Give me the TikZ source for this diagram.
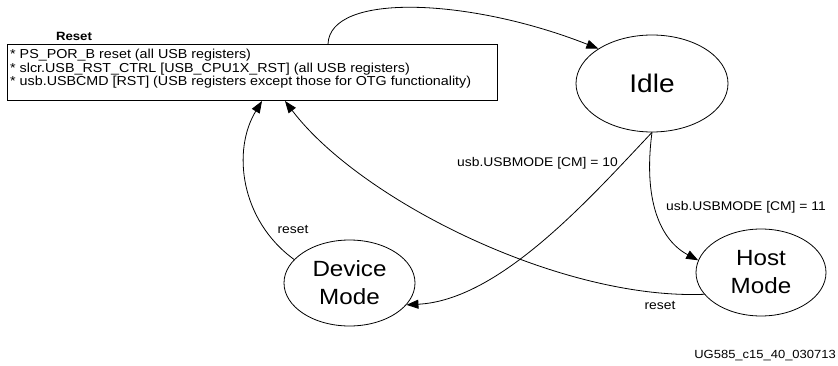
\documentclass[tikz,border=0pt]{standalone}
\usepackage{fontspec}
\setmainfont{Liberation Sans}[FakeStretch=1.1]
\usetikzlibrary{arrows.meta,shapes.geometric}
\begin{document}
\begin{tikzpicture}[x=1pt,y=-1pt,
  state/.style={draw,ellipse,inner sep=0pt,line width=0.8pt,align=center},
  conn/.style={line width=0.8pt,-{Triangle[length=12pt,width=9pt]}},
  lbl/.style={font=\fontsize{12.6}{14}\selectfont,inner sep=0pt},
  boxline/.style={font=\fontsize{13}{13.5}\selectfont,inner sep=0pt,anchor=base west}]
\useasboundingbox (0,0) rectangle (838,366);
% reset box
\node[draw,line width=1pt,anchor=north west,minimum width=490pt,minimum height=56pt,inner sep=0pt] (rbox) at (7,44) {};
\node[boxline] (t1) at (10,59) {* PS\_POR\_B reset (all USB registers)};
\node[boxline] (t2) at (10,72.5) {* slcr.USB\_RST\_CTRL [USB\_CPU1X\_RST] (all USB registers)};
\node[boxline] (t3) at (10,86) {* usb.USBCMD [RST] (USB registers except those for OTG functionality)};
\node[font=\bfseries\fontsize{12}{14}\selectfont,inner sep=0pt] (rlab) at (74,36) {Reset};
% states
\node[state,minimum width=152pt,minimum height=97pt,font=\fontsize{25.5}{28}\selectfont] (idle) at (652,83.5) {Idle};
\node[state,minimum width=131pt,minimum height=86pt,font=\fontsize{22}{28}\selectfont] (dev) at (349.5,283) {Device\\Mode};
\node[state,minimum width=130pt,minimum height=87pt,font=\fontsize{22}{28}\selectfont] (host) at (761,272.5) {Host\\Mode};
% connectors
\draw[conn] ([xshift=321pt]rbox.north west) .. controls (330,-8) and (470,-2) .. (idle.147);
\draw[conn] (idle.south) .. controls (590,198) and (500,300) .. (dev.-21);
\draw[conn] (idle.south) .. controls (643,200) and (660,240) .. (host.169);
\draw[conn] (host.201) .. controls (560,300) and (360,200) .. ([xshift=278pt]rbox.south west);
\draw[conn] (dev.157) .. controls (240,220) and (232,150) .. ([xshift=255pt]rbox.south west);
% labels
\node[lbl,anchor=east] (l10) at (618,163) {usb.USBMODE [CM] = 10};
\node[lbl,anchor=west] (l11) at (666,207) {usb.USBMODE [CM] = 11};
\node[lbl] (rs1) at (293,229) {reset};
\node[lbl] (rs2) at (660,305) {reset};
\node[font=\fontsize{11.8}{14}\selectfont,anchor=east,inner sep=0pt] (foot) at (836,356) {UG585\_c15\_40\_030713};
\end{tikzpicture}
\end{document}
